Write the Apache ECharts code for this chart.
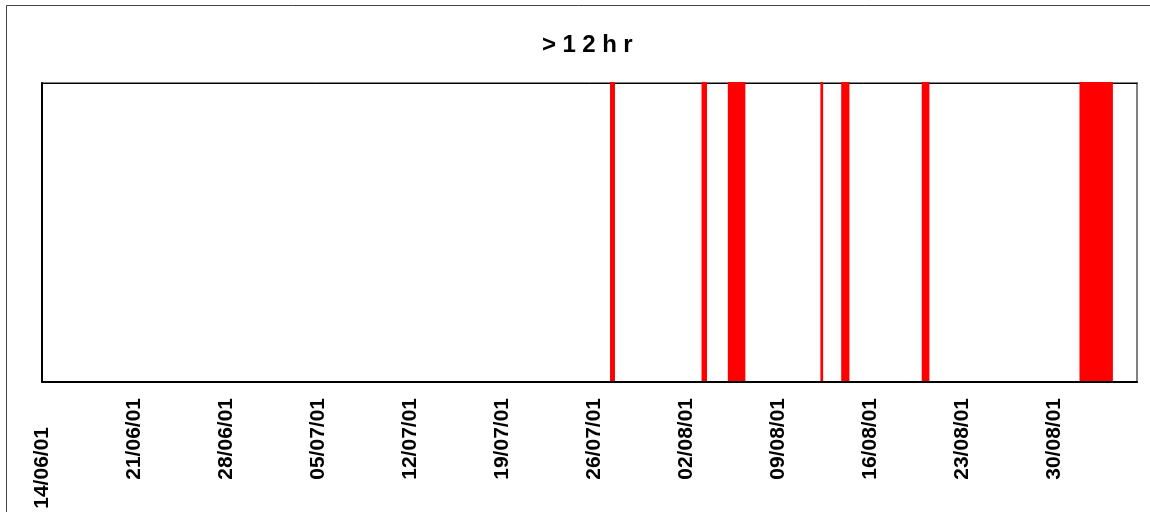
<!DOCTYPE html>
<html>
<head>
<meta charset="utf-8">
<script src="https://cdn.jsdelivr.net/npm/echarts@6/dist/echarts.min.js"></script>
<style>html,body{margin:0;padding:0;background:#fff}#chart{width:1150px;height:512px}</style>
</head>
<body>
<div id="chart"></div>
<script>
// Tick labels (weekly, starting 14/06/01)
var tickLabels = ['14/06/01','21/06/01','28/06/01','05/07/01','12/07/01','19/07/01','26/07/01','02/08/01','09/08/01','16/08/01','23/08/01','30/08/01'];
// Periods where the value is >12hr (start / end)
var eventStart = ['2001-07-27T05:00','2001-08-03T04:00','2001-08-05T04:00','2001-08-12T05:00','2001-08-13T19:00','2001-08-19T22:00','2001-08-31T22:00'];
var eventEnd   = ['2001-07-27T14:00','2001-08-03T14:00','2001-08-06T12:00','2001-08-12T10:00','2001-08-14T10:00','2001-08-20T12:00','2001-09-03T11:00'];
var axisStart = '2001-06-14T00:00';
var axisEnd   = '2001-09-05T07:00';

function dayOffset(s) {
  return (Date.parse(s + 'Z') - Date.parse(axisStart + 'Z')) / 86400000;
}
var data = eventStart.map(function (s, i) { return [dayOffset(s), dayOffset(eventEnd[i])]; });

var chart = echarts.init(document.getElementById('chart'), null, {renderer: 'canvas'});
var font = "'Liberation Sans', Arial, sans-serif";
chart.setOption({
  backgroundColor: '#ffffff',
  animation: false,
  title: {
    text: '{c|>}{c|1}{c|2}{c|h}{l|r}',
    left: 537,
    top: 28,
    textStyle: {
      rich: {
        c: {fontFamily: font, fontWeight: 'bold', fontSize: 24, color: '#000', padding: [0, 6.5, 0, 0]},
        l: {fontFamily: font, fontWeight: 'bold', fontSize: 24, color: '#000'}
      }
    }
  },
  graphic: [{
    type: 'rect',
    shape: {x: 6.5, y: 5.5, width: 1300, height: 700},
    style: {fill: 'none', stroke: '#444', lineWidth: 1},
    z: 100, silent: true
  }],
  grid: {left: 42, right: 13, top: 83, bottom: 130, show: true, borderColor: '#808080', borderWidth: 2, backgroundColor: '#fff'},
  xAxis: [{
    type: 'value',
    min: 0,
    max: dayOffset(axisEnd),
    interval: 7,
    splitLine: {show: false},
    axisTick: {show: false},
    axisLine: {show: true, lineStyle: {color: '#000', width: 2}},
    axisLabel: {
      rotate: 90,
      margin: 16,
      showMaxLabel: false,
      fontFamily: font, fontWeight: 'bold', fontSize: 21, color: '#000',
      formatter: function (v) {
        var idx = Math.round(v / 7);
        if (Math.abs(v - idx * 7) > 1e-6 || !tickLabels[idx]) return '';
        return idx === 0 ? '{f|' + tickLabels[idx] + '}' : '{n|' + tickLabels[idx] + '}';
      },
      rich: {
        f: {fontFamily: font, fontWeight: 'bold', fontSize: 21, color: '#000', padding: [0, 29, 0, 0]},
        n: {fontFamily: font, fontWeight: 'bold', fontSize: 21, color: '#000'}
      }
    }
  }, {
    type: 'value',
    position: 'top',
    min: 0,
    max: dayOffset(axisEnd),
    splitLine: {show: false},
    axisTick: {show: false},
    axisLabel: {show: false},
    axisLine: {show: true, lineStyle: {color: '#000', width: 1}},
    z: 0
  }],
  yAxis: {
    type: 'value',
    min: 0,
    max: 1,
    splitLine: {show: false},
    axisTick: {show: false},
    axisLabel: {show: false},
    axisLine: {show: true, lineStyle: {color: '#000', width: 2}}
  },
  series: [{
    type: 'custom',
    xAxisIndex: 0,
    encode: {x: [0, 1]},
    z: 5,
    renderItem: function (params, api) {
      var p0 = api.coord([api.value(0), 1]);
      var p1 = api.coord([api.value(1), 0]);
      return {
        type: 'rect',
        shape: {x: p0[0], y: p0[1] - 1, width: p1[0] - p0[0], height: p1[1] - p0[1]},
        style: {fill: '#ff0000'}
      };
    },
    data: data
  }]
});
</script>
</body>
</html>
